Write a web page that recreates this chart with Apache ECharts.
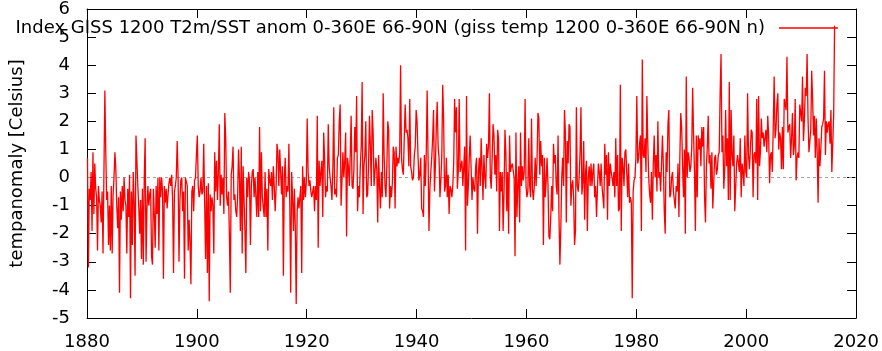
<!DOCTYPE html>
<html><head><meta charset="utf-8">
<script src="https://cdn.jsdelivr.net/npm/echarts@6/dist/echarts.min.js"></script>
<style>html,body{margin:0;padding:0;background:#fff}#c{width:882px;height:351px}</style>
</head><body><div id="c"></div>
<script>
// Bi-monthly samples (6 per year)
const startYear = 1880;
const perYear = 6;
const v1880 = [
 0.7,-3.2,-0.4,-0.8,0.2,-1.9,  0.9,-1.3,0.5,-0.4,-0.7,-2.6,  -0.3,-0.8,-1.0,-1.6,-0.5,-2.7,
 0.2,3.1,0.9,-0.8,-0.5,-2.4,  -1.0,-2.6,-0.3,-2.7,-0.6,0.0,  0.9,0.3,-1.0,-1.8,-0.7,-4.1,
 -0.5,-1.5,-0.3,-1.2,0.0,-0.8,  -1.0,-2.7,-0.4,-1.4,0.1,-4.3,  -0.5,-2.4,0.2,-0.9,-3.5,1.5,
 1.5,-0.3,-1.0,-2.0,-0.8,-2.9,  -0.4,-3.1,-0.1,1.4,-3.0,-1.1,  -0.3,-1.0,-0.6,-0.4,-2.8,-3.1,
 -0.4,-1.3,-2.5,-0.3,-1.3,0.0,  -2.6,0.0,-0.7,0.0,-0.5,-3.6,  -0.3,-0.9,-0.4,-1.1,-0.6,-0.2,
 0.0,-0.3,0.1,-0.8,-3.4,-0.5,  -0.3,0.0,1.3,0.0,-3.0,-0.8,  -0.1,0.0,-1.2,-0.5,-3.6,0.0,
 0.0,-0.3,-2.6,-1.5,-2.3,-3.8,  -0.5,-0.3,-1.2,-0.1,0.0,0.8
];
const v1900 = [
 1.5,-0.3,-0.7,-0.5,0.0,-0.6,  -0.5,1.2,-0.9,-2.9,-0.3,-3.4,  -0.2,-4.4,-0.6,-1.2,-0.7,-1.0,
 -2.7,0.9,-0.5,0.6,-0.8,0.2,  1.9,-1.0,0.1,-0.6,0.0,-1.3,  2.3,1.4,-0.7,-1.0,-0.5,-2.0,
 -4.1,0.1,0.4,1.1,-0.8,-0.6,  -1.2,-1.4,-0.7,1.0,0.0,-1.9,  1.1,-2.7,0.4,-0.7,-1.9,-3.4,
 0.0,-0.7,0.2,-0.1,-2.4,-0.3,  0.2,0.3,-0.7,0.0,-0.7,-1.4,  0.2,-1.4,1.8,-1.2,0.9,-0.7,
 -0.7,-1.4,0.2,-1.4,-0.4,-2.6,  0.3,-0.1,-0.3,0.2,-0.8,0.4,  -0.3,-1.2,-0.4,1.2,0.9,-0.3,
 1.0,0.2,-0.6,0.4,-3.5,0.0,  0.7,-0.7,-0.3,-0.5,1.2,-1.0,  -4.1,0.2,-0.7,-1.9,-0.4,-1.8,
 -4.5,-1.2,-0.7,-1.1,-0.7,-0.3,  -3.4,0.4,-0.8,0.0,-0.7,-0.2
];
const v1920 = [
 2.1,0.2,-0.3,-0.1,-0.5,-0.7,  -0.7,-0.3,-1.2,-0.3,-0.8,2.2,  -2.5,0.6,-0.3,0.2,0.6,-1.4,
 1.6,0.7,-0.7,-0.3,-0.5,1.9,  0.4,0.0,-0.3,-0.8,0.3,2.5,  -0.6,-0.4,-0.7,0.7,0.8,2.0,
 2.6,-1.0,-0.1,0.9,0.0,0.6,  1.6,-2.1,0.7,0.4,-0.3,0.8,  2.2,-0.3,-0.4,0.3,1.8,0.9,
 2.9,-1.2,-0.3,-0.7,0.4,1.1,  3.4,-1.3,0.4,0.8,2.0,-0.7,  -0.6,0.4,2.2,1.1,-0.3,2.4,
 1.6,-0.3,0.2,0.7,0.3,-1.6,  0.8,-0.3,-1.1,0.2,-0.7,3.0,  0.8,-0.3,-0.7,0.4,2.0,1.7,
 -1.1,-0.3,-0.7,-0.2,1.1,0.9,  -1.1,1.1,0.4,0.7,0.5,0.9,  4.0,0.7,0.3,0.1,1.4,2.6,
 1.6,1.7,1.4,0.4,2.8,0.4,  0.2,-0.1,0.0,0.8,1.1,2.4
];
const v1940 = [
 2.0,0.8,-0.1,0.1,0.7,-1.1,  -1.2,-1.4,0.8,-0.3,0.8,3.1,  0.7,-1.9,-0.4,0.2,0.7,1.4,
 2.4,-0.5,0.4,1.8,2.7,1.1,  0.7,-0.7,-0.1,0.8,3.3,2.1,  -0.5,-0.3,0.7,-0.7,0.1,-1.3,
 -0.3,-0.4,-0.7,-0.3,0.5,2.8,  1.6,2.5,-0.4,0.2,2.8,0.2,  0.2,0.6,-0.3,0.4,1.1,-2.6,
 2.9,-1.0,-0.3,0.7,1.5,1.5,  -0.8,0.0,-0.4,-0.5,0.4,0.7,  -2.0,0.2,0.7,-0.3,1.4,1.4,
 -0.8,0.8,0.0,-0.4,1.2,0.7,  1.1,3.0,0.0,-0.4,0.7,1.9,  1.5,0.1,0.8,-0.5,1.7,1.4,
 -1.9,0.2,-0.5,0.2,-1.9,-0.5,  1.7,0.9,-1.2,0.2,-2.0,1.5,  0.2,0.4,0.5,0.5,0.0,-2.8,
 1.6,-1.4,-0.3,0.4,-1.6,1.6,  -0.3,0.4,-0.1,0.2,2.8,-0.3
];
const v1960 = [
 -0.7,-0.5,1.4,-0.3,-0.7,2.1,  -0.4,-0.8,-0.3,0.7,-0.3,0.6,  2.3,2.1,0.1,1.3,0.4,0.8,
 -2.4,0.7,-0.7,-0.1,0.7,-0.3,  -2.1,-2.2,-1.4,-0.3,-1.2,1.2,  0.5,0.8,-0.3,-0.6,1.5,-1.4,
 -3.1,-1.8,0.0,0.7,-0.3,2.4,  1.6,-1.6,1.3,0.5,1.9,1.8,  -1.0,-0.3,-0.1,-0.7,-2.4,-1.9,
 2.5,-0.3,-0.5,0.0,0.9,2.5,  -0.6,-0.2,1.3,-1.5,0.2,0.6,  -1.9,0.0,0.4,-0.3,0.5,-0.3,
 0.2,0.5,-0.7,-0.3,-1.4,-0.4,  0.5,0.2,-0.3,0.5,-0.3,-0.7,  -1.1,1.2,0.1,0.8,-1.5,0.9,
 -0.3,0.5,0.2,0.0,-0.3,0.2,  -0.7,1.4,-0.3,0.8,-1.2,-1.1,  3.3,-1.9,0.7,0.4,-0.3,0.9,
 1.0,0.2,-0.7,0.5,-0.9,-0.7,  -0.9,-4.3,-0.5,-0.1,0.0,0.7
];
const v1980 = [
 2.9,0.5,0.7,1.2,1.5,-1.9,  4.2,0.8,0.7,1.4,0.2,2.9,  1.2,0.0,-0.6,-0.9,0.2,-1.5,
 0.5,1.5,0.0,0.8,-0.5,2.0,  0.0,0.2,-0.5,0.5,1.5,0.4,  -1.2,-2.0,0.9,0.2,1.9,2.4,
 -0.7,-0.6,0.0,0.2,-0.5,-0.8,  -1.1,-0.3,-0.5,0.5,-1.4,0.7,  2.3,1.8,0.4,-0.7,1.0,-2.0,
 3.6,0.0,0.9,0.7,0.2,0.4,  1.1,3.2,1.5,0.2,-1.9,1.5,  -0.7,1.5,1.0,1.4,0.4,1.8,
 1.1,1.8,-0.7,-1.6,0.4,1.1,  2.2,0.5,0.8,-0.4,0.9,-1.1,  -1.1,0.7,0.8,0.1,0.3,0.8,
 0.9,3.0,4.4,0.9,1.5,-0.4,  0.3,2.4,0.4,1.4,-0.8,3.4,  -0.8,2.4,0.8,0.4,1.5,-1.2,
 -1.2,0.5,0.8,0.8,0.2,1.4,  -0.7,0.5,0.2,-0.3,1.5,0.2
];
const v2000 = [
 0.0,3.0,0.8,0.3,1.0,1.7,  1.6,-0.7,0.8,0.9,0.5,2.8,  -0.8,2.9,0.4,0.9,2.1,1.4,
 1.6,1.1,1.4,1.7,0.9,2.2,  1.5,-0.2,0.8,0.9,0.2,1.8,  3.6,1.4,1.7,2.6,3.0,1.0,
 1.6,1.4,0.3,1.8,0.3,2.8,  2.8,2.4,4.3,1.6,1.8,1.9,  0.7,1.4,2.3,0.8,1.1,2.8,
 -0.1,0.7,0.9,0.7,2.6,2.3,  2.0,3.6,1.3,2.0,3.2,2.9,  4.4,2.1,0.9,1.3,1.7,3.8,
 2.8,1.5,2.2,0.7,2.1,0.9,  -0.9,1.4,0.4,1.0,1.8,1.9,  2.1,3.8,0.8,2.0,1.6,1.9,
 2.0,1.2,2.4,0.2,1.2,2.2,  5.4
];
const xRange = [1880, 2020];
const xStep = 20;
const yRange = [-5, 6];
const yStep = 1;
const seriesName = 'Index GISS 1200 T2m/SST anom 0-360E 66-90N (giss temp 1200 0-360E 66-90N n)';
const yTitle = 'tempanomaly [Celsius]';

const values = [].concat(v1880, v1900, v1920, v1940, v1960, v1980, v2000);
const data = values.map((v, i) => [startYear + (i + 0.5) / perYear, v]);

const FONT = 'DejaVu Sans';
const FS = 18;
const tick = {show: true, inside: true, length: 9, lineStyle: {color: '#000', width: 1}};
const line = {show: true, onZero: false, lineStyle: {color: '#000', width: 1}};

const chart = echarts.init(document.getElementById('c'), null, {renderer: 'canvas'});
chart.setOption({
  animation: false,
  backgroundColor: '#fff',
  textStyle: {fontFamily: FONT},
  grid: {left: 71, right: 22, top: 8, bottom: 29, containLabel: false},
  legend: {
    data: [{name: seriesName, icon: 'rect'}],
    right: 44, top: 19, padding: 0,
    align: 'right',
    itemWidth: 59, itemHeight: 1.5,
    itemStyle: {color: '#ff0000', borderWidth: 0},
    textStyle: {fontFamily: FONT, fontSize: FS, color: '#000', padding: [0, 9, 0, 0]},
    selectedMode: false
  },
  xAxis: [
    {type: 'value', min: xRange[0], max: xRange[1], interval: xStep, position: 'bottom',
     axisLine: line, axisTick: tick, splitLine: {show: false},
     axisLabel: {fontFamily: FONT, fontSize: FS, color: '#000', margin: 15, formatter: v => String(v)}},
    {type: 'value', min: xRange[0], max: xRange[1], interval: xStep, position: 'top',
     axisLine: line, axisTick: tick, splitLine: {show: false}, axisLabel: {show: false}}
  ],
  yAxis: [
    {type: 'value', min: yRange[0], max: yRange[1], interval: yStep, position: 'left',
     name: yTitle, nameLocation: 'middle', nameRotate: 90, nameGap: 61,
     nameTextStyle: {fontFamily: FONT, fontSize: FS, color: '#000'},
     axisLine: line, axisTick: tick, splitLine: {show: false},
     axisLabel: {fontFamily: FONT, fontSize: FS, color: '#000', margin: 17}},
    {type: 'value', min: yRange[0], max: yRange[1], interval: yStep, position: 'right',
     axisLine: line, axisTick: tick, splitLine: {show: false}, axisLabel: {show: false}}
  ],
  series: [
    {name: 'zero', type: 'line', xAxisIndex: 0, yAxisIndex: 0, z: 1,
     data: [[xRange[0], 0], [xRange[1], 0]], symbol: 'none', silent: true,
     lineStyle: {color: '#a0a0a0', width: 1, type: [3, 3]}},
    {name: seriesName, type: 'line', xAxisIndex: 0, yAxisIndex: 0, z: 2,
     data: data, symbol: 'none', showSymbol: false,
     lineStyle: {color: '#ff0000', width: 1.3}, itemStyle: {color: '#ff0000'}}
  ]
});
</script>
</body></html>
